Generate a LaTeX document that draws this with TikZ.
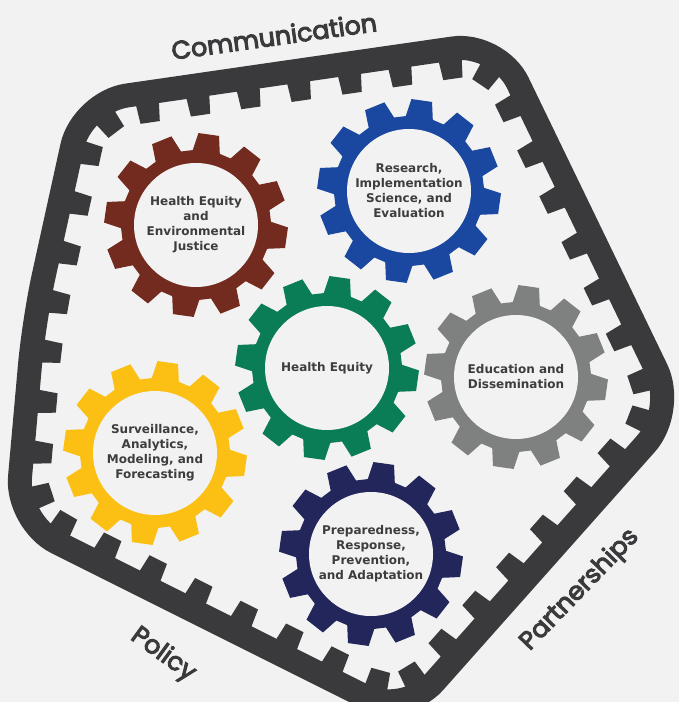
\documentclass[tikz,border=0pt]{standalone}
\usepackage{fontspec}
\usepackage{xcolor}
\usepackage{tikz}
\usetikzlibrary{decorations.markings}
\setmainfont{DejaVu Sans}
\newfontfamily\labelfont{Poppins}[FakeBold=4]
\definecolor{bgGray}{HTML}{F2F2F2}
\definecolor{ringGray}{HTML}{3A3A3C}
\definecolor{textGray}{HTML}{3D3D3D}
\definecolor{gearBrown}{HTML}{742B1F}
\definecolor{gearBlue}{HTML}{1A479F}
\definecolor{gearGreen}{HTML}{0B7D56}
\definecolor{gearGray}{HTML}{7F8180}
\definecolor{gearYellow}{HTML}{FCC014}
\definecolor{gearNavy}{HTML}{22265A}
\tikzset{gear-text/.style={align=center, text=textGray, inner sep=0, font=\bfseries\fontsize{9}{11.25}\selectfont}}
\tikzset{outer-label/.style={text=ringGray, inner sep=0, font=\labelfont\fontsize{19}{19}\selectfont}}
\tikzset{ring-line/.style={draw=ringGray, line width=18pt, rounded corners=34pt}}
\tikzset{ring-tooth/.style={fill=ringGray, draw=none, sharp corners}}
\newcommand{\gearwheel}[4]{
    \begin{scope}[shift={#2}]
        \fill[#3] (-2.5:75) \foreach \k in {0,...,11} {
            -- ({\k*30-2.5}:75) -- ({\k*30+1.5}:92) -- ({\k*30+14.5}:92) -- ({\k*30+18.5}:75)
        } -- cycle;
        \fill[bgGray] (0,0) circle[radius=62];
        \node[gear-text] (#1) at (0,0) {#4};
    \end{scope}
}
\newcommand{\ringpath}{(303,70) -- (498,42) -- (676,410) -- (404,716) -- (16,522) -- (34,320) -- (82,102) -- cycle}

\begin{document}
\begin{tikzpicture}[x=0.75pt, y=-0.75pt]
    \useasboundingbox[fill=bgGray] (0,0) rectangle (679,702);

    % outer ring
    \draw[ring-line] \ringpath;
    % its teeth
    \path[rounded corners=34pt, decorate, decoration={markings,
        mark=between positions 0 and 0.99 step 0.025 with {
            \fill[ring-tooth] (-9.5pt,0pt) -- (-7.3pt,-22.5pt) -- (7.3pt,-22.5pt) -- (9.5pt,0pt) -- cycle;}}]
        \ringpath;

    \gearwheel{justice}{(196,225)}{gearBrown}{Health Equity\\and\\Environmental\\Justice}
    \gearwheel{research}{(409,191)}{gearBlue}{Research,\\Implementation\\Science, and\\Evaluation}
    \gearwheel{equity}{(327,368)}{gearGreen}{Health Equity}
    \gearwheel{education}{(516,377)}{gearGray}{Education and\\Dissemination}
    \gearwheel{surveillance}{(155,453)}{gearYellow}{Surveillance,\\Analytics,\\Modeling, and\\Forecasting}
    \gearwheel{preparedness}{(371,554)}{gearNavy}{Preparedness,\\Response,\\Prevention,\\and Adaptation}

    \node[outer-label, rotate=8] (communication) at (274,36) {Communication};
    \node[outer-label, rotate=-36] (policy) at (163,655) {Policy};
    \node[outer-label, rotate=46] (partnerships) at (580,590) {Partnerships};
\end{tikzpicture}
\end{document}
